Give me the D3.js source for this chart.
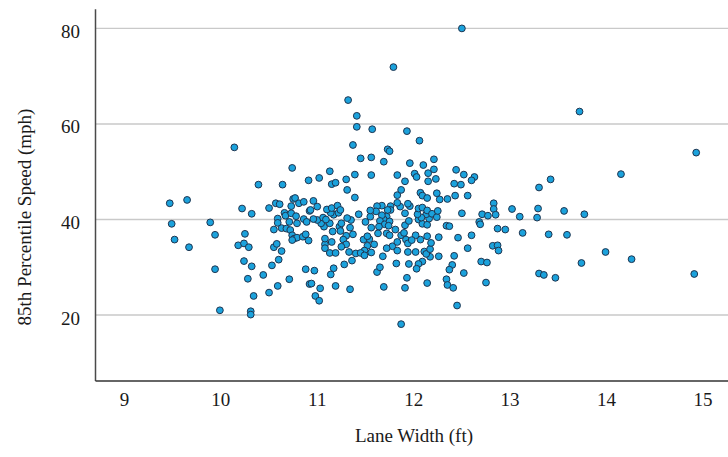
<!DOCTYPE html>
<html lang="en">
<head>
    <meta charset="utf-8">
    <title>85th Percentile Speed vs Lane Width</title>
    <script src="https://d3js.org/d3.v7.min.js"></script>
    <style>
        body { margin: 0; background: #fff; }
        text { font-family: "Liberation Serif", "Times New Roman", serif; fill: #1a1a1a; }
    </style>
</head>
<body>
<div id="chart"></div>
<script>

/* ------------------------------------------------------------
 *  Data
 * ------------------------------------------------------------ */
var laneWidth = [
    9.47, 9.49, 9.52, 9.65, 9.67, 9.89, 9.94, 9.94, 9.99, 10.14,
    10.39, 10.22, 10.32, 10.25, 10.18, 10.24, 10.29, 10.24, 10.32, 10.28,
    10.34, 10.31, 10.31, 10.44, 10.50, 10.53, 10.59, 10.71, 10.60, 10.63,
    10.55, 10.58, 10.55, 10.50, 10.57, 10.61, 10.64, 10.74, 10.91, 10.66,
    10.67, 10.59, 10.59, 10.73, 10.73, 10.75, 10.77, 10.81, 10.86, 10.78,
    10.79, 10.86, 10.89, 10.71, 10.63, 10.68, 10.72, 10.74, 10.76, 10.79,
    10.74, 10.85, 10.88, 10.91, 10.92, 10.88, 10.92,
    11.32, 11.41, 11.41, 11.57, 11.93, 12.06, 11.37, 11.73, 11.75, 11.45,
    11.56, 11.69, 11.96, 12.10, 12.21, 12.15, 12.21, 12.44, 12.52, 12.63,
    12.60, 12.42, 12.49, 12.23, 12.15, 12.01, 12.03, 11.91, 11.83, 11.56,
    11.39, 11.30, 11.31, 11.39, 11.13, 11.02, 11.15, 11.19, 11.83, 11.87,
    12.07, 12.09, 12.14, 12.24, 12.27, 12.35, 12.43, 12.56, 12.83, 12.83,
    13.02, 12.85, 12.71, 12.77, 13.10, 12.68, 12.69, 12.87, 12.95, 12.50,
    12.34, 12.37, 12.46, 12.60, 12.56, 12.82, 12.87, 12.88, 12.70, 12.76,
    12.75, 12.52, 12.42, 12.40, 12.37, 12.34, 12.35, 12.41, 12.45, 11.87,
    12.14, 12.26, 12.17, 12.09, 12.05, 12.03, 11.93, 11.91, 11.95, 11.82,
    11.69, 11.62, 11.65, 11.68, 11.78, 11.83, 11.87, 12.02, 11.94, 12.11,
    12.13, 12.17, 12.26, 12.18, 12.14, 12.07, 12.02, 11.90, 11.92, 11.94,
    11.98, 11.83, 11.81, 11.91, 11.95, 12.05, 12.09, 12.14, 12.16, 12.13,
    12.08, 12.04, 12.05, 12.09, 12.14, 12.19, 12.24, 12.25, 11.96, 11.94,
    11.91, 11.86, 11.83, 11.76, 11.76, 11.73, 11.72, 11.69, 11.67, 11.67,
    11.62, 11.61, 11.65, 11.70, 11.75, 11.74, 11.64, 11.55, 11.55, 11.50,
    11.56, 11.63, 11.72, 11.75, 11.54, 11.48, 11.52, 11.52, 11.59, 11.49,
    11.56, 11.43, 11.35, 11.31, 11.34, 11.37, 11.30, 11.27, 11.30, 11.40,
    11.33, 11.36, 11.28, 11.17, 11.14, 11.19, 11.34, 11.03, 10.98, 11.02,
    10.94, 10.97, 11.23, 11.24, 11.16, 11.07, 11.13, 11.04, 11.00, 10.96,
    11.06, 11.09, 11.17, 11.22, 11.14, 11.10, 11.15, 11.21, 11.00, 10.96,
    10.93, 11.08, 11.08, 11.13, 11.19, 11.25, 11.45, 11.72, 11.08, 11.15,
    11.25, 11.24, 11.49,
    13.42, 13.30, 13.29, 13.28, 13.40, 13.13, 13.30, 13.35, 13.47, 13.72,
    14.93, 14.15, 13.56, 13.77, 13.59, 13.99, 14.26, 13.74, 14.91, 12.50,
    11.79
];
var speed = [
    43.4, 39.1, 35.8, 44.1, 34.2, 39.4, 36.8, 29.6, 21.0, 55.1,
    47.3, 42.3, 41.2, 37.0, 34.6, 35.0, 34.2, 31.3, 30.2, 27.6,
    24.0, 20.8, 20.1, 28.4, 24.7, 30.4, 26.1, 27.5, 31.6, 33.4,
    34.2, 34.9, 37.9, 42.4, 43.4, 43.2, 47.3, 50.8, 48.2, 41.4,
    40.8, 40.2, 39.3, 42.8, 41.3, 44.3, 44.5, 43.4, 43.7, 40.7,
    39.2, 40.1, 39.5, 39.5, 38.2, 38.1, 37.8, 36.7, 36.0, 36.2,
    35.7, 36.4, 36.9, 35.6, 41.8, 29.6, 26.5,
    65.0, 61.7, 59.4, 58.9, 58.5, 56.5, 55.6, 54.7, 54.3, 52.8,
    53.0, 52.1, 51.8, 51.4, 52.6, 49.7, 50.5, 50.4, 49.4, 48.9,
    48.2, 47.5, 47.3, 48.5, 48.0, 49.6, 48.9, 48.0, 49.3, 49.3,
    49.4, 48.4, 46.2, 44.6, 50.1, 48.7, 47.4, 47.7, 45.1, 46.2,
    45.6, 45.0, 44.5, 45.5, 44.2, 44.3, 45.0, 45.0, 43.4, 42.2,
    42.2, 41.0, 41.1, 40.8, 40.6, 39.5, 39.0, 38.1, 37.9, 41.3,
    38.7, 38.6, 36.2, 36.7, 34.0, 34.5, 34.6, 33.5, 31.2, 31.0,
    26.8, 28.8, 32.4, 30.5, 29.5, 27.5, 26.3, 25.7, 22.0, 18.1,
    26.7, 32.3, 32.2, 31.2, 30.7, 29.7, 27.8, 25.7, 30.7, 30.8,
    25.9, 29.0, 30.0, 32.3, 34.4, 33.5, 36.7, 33.2, 33.2, 33.3,
    32.8, 33.8, 36.3, 35.1, 36.5, 35.8, 36.7, 37.2, 35.8, 35.0,
    35.7, 35.3, 37.9, 38.8, 39.7, 40.0, 39.1, 38.9, 40.2, 41.1,
    40.4, 41.1, 42.3, 42.5, 41.9, 41.2, 40.5, 41.8, 42.8, 43.3,
    41.3, 42.7, 43.5, 42.8, 42.0, 42.0, 40.6, 40.0, 40.9, 42.9,
    42.8, 41.7, 39.7, 39.0, 39.6, 38.7, 38.5, 40.6, 41.9, 39.5,
    38.3, 37.1, 37.1, 36.7, 35.9, 35.8, 36.5, 34.5, 34.8, 33.5,
    33.1, 41.1, 39.9, 40.3, 38.3, 36.9, 36.6, 35.8, 34.8, 32.9,
    33.2, 31.4, 30.6, 29.8, 28.5, 26.1, 25.4, 25.6, 24.0, 23.0,
    26.6, 29.3, 38.5, 37.6, 37.5, 38.5, 39.2, 39.2, 39.9, 40.1,
    40.4, 40.0, 41.0, 41.4, 41.4, 42.1, 42.4, 42.9, 42.7, 43.9,
    42.0, 34.8, 34.0, 33.0, 33.0, 34.3, 33.0, 34.0, 36.0, 35.3,
    39.2, 42.0, 32.5,
    48.4, 46.7, 42.3, 40.4, 36.9, 37.2, 28.7, 28.4, 27.8, 62.6,
    54.0, 49.5, 41.8, 41.1, 36.8, 33.2, 31.7, 30.9, 28.6, 80.0,
    71.9
];
var xTicks = [9, 10, 11, 12, 13, 14, 15];
var yTicks = [20, 40, 60, 80];
var xTitle = "Lane Width (ft)";
var yTitle = "85th Percentile Speed (mph)";

/* ------------------------------------------------------------
 *  Setup
 * ------------------------------------------------------------ */
var width = 728, height = 457;

var svg = d3.select("#chart")
    .append("svg")
    .attr("width", width)
    .attr("height", height)
    .style("display", "block");

var x = d3.scaleLinear().domain([8.7, 15.26]).range([95.5, 728]);
var y = d3.scaleLinear().domain([6.2, 84]).range([381, 9.3]);

// Gridlines
svg.append("g")
    .selectAll("line")
    .data(yTicks)
    .enter()
    .append("line")
    .attr("x1", x.range()[0])
    .attr("x2", x.range()[1])
    .attr("y1", d => y(d))
    .attr("y2", d => y(d))
    .attr("stroke", "#c9c9c9")
    .attr("stroke-width", 1.4);

// Axis lines
svg.append("line")
    .attr("x1", x.range()[0]).attr("x2", x.range()[0])
    .attr("y1", y.range()[1]).attr("y2", y.range()[0])
    .attr("stroke", "#4a4a4a")
    .attr("stroke-width", 1.5);
svg.append("line")
    .attr("x1", x.range()[0]).attr("x2", x.range()[1])
    .attr("y1", y.range()[0]).attr("y2", y.range()[0])
    .attr("stroke", "#333")
    .attr("stroke-width", 1.5);

// Tick labels
svg.append("g")
    .selectAll("text")
    .data(xTicks)
    .enter()
    .append("text")
    .attr("x", d => x(d))
    .attr("y", 406)
    .attr("text-anchor", "middle")
    .style("font-size", "19px")
    .text(d => d);

svg.append("g")
    .selectAll("text")
    .data(yTicks)
    .enter()
    .append("text")
    .attr("x", 80)
    .attr("y", d => y(d) + 9.5)
    .attr("text-anchor", "end")
    .style("font-size", "19px")
    .text(d => d);

// Axis titles
svg.append("text")
    .attr("x", 414)
    .attr("y", 442)
    .attr("text-anchor", "middle")
    .style("font-size", "19px")
    .text(xTitle);

svg.append("text")
    .attr("transform", "translate(31,217) rotate(-90)")
    .attr("text-anchor", "middle")
    .style("font-size", "19px")
    .text(yTitle);

// Points
var points = laneWidth.map((d, i) => ({x: d, y: speed[i]}));
svg.append("g")
    .selectAll("circle")
    .data(points)
    .enter()
    .append("circle")
    .attr("cx", d => x(d.x))
    .attr("cy", d => y(d.y))
    .attr("r", 3.4)
    .attr("fill", "#1ba2dc")
    .attr("stroke", "#1f3550")
    .attr("stroke-width", 1);

</script>
</body>
</html>
